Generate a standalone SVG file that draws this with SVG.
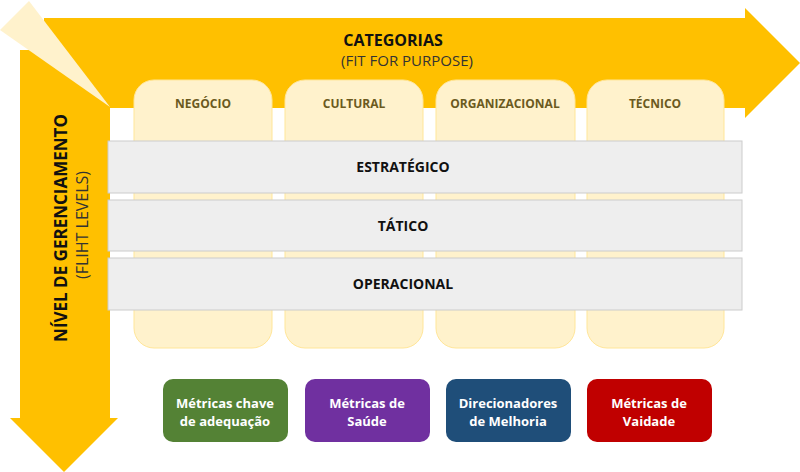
<svg xmlns="http://www.w3.org/2000/svg" width="800" height="472" viewBox="0 0 800 472">
<style>
.col{fill:#fff2cc;stroke:#ffe699;stroke-width:1}
.row{fill:#eeeeee;stroke:#cccccc;stroke-width:1}
.t{font-family:"Open Sans","Liberation Sans",sans-serif;font-weight:bold;text-anchor:middle}
.ct{font-size:12px;fill:#6b5a1e}
.rt{font-size:14px;fill:#111}
.bt{font-size:13px;fill:#fff}
</style>
<g id="arrows">
<polygon points="44,18 745,18 745,8 800,63 745,118 745,108 110,108 110,418 118,418 64,472 10,418 20,418 20,50 44,50" fill="#ffc000"/>
<polygon points="0,30 29,1 110,107" fill="#fff2cc"/>
<text class="t" x="393" y="46" font-size="16" fill="#111">CATEGORIAS</text>
<text x="407" y="66" font-family="Open Sans,Liberation Sans,sans-serif" font-size="15" fill="#333" text-anchor="middle">(FIT FOR PURPOSE)</text>
<text class="t" transform="translate(67,228) rotate(-90)" font-size="17" fill="#111">NÍVEL DE GERENCIAMENTO</text>
<text transform="translate(88,225) rotate(-90)" font-family="Open Sans,Liberation Sans,sans-serif" font-size="16" fill="#333" text-anchor="middle">(FLIHT LEVELS)</text>
</g>
<g id="negocio"><rect class="col" x="134" y="80" width="138" height="268" rx="20"/><text class="t ct" x="203" y="108">NEGÓCIO</text></g>
<g id="cultural"><rect class="col" x="285" y="80" width="138" height="268" rx="20"/><text class="t ct" x="354" y="108">CULTURAL</text></g>
<g id="organizacional"><rect class="col" x="436" y="80" width="139" height="268" rx="20"/><text class="t ct" x="505" y="108">ORGANIZACIONAL</text></g>
<g id="tecnico"><rect class="col" x="587" y="80" width="137" height="268" rx="20"/><text class="t ct" x="655" y="108">TÉCNICO</text></g>
<g id="estrategico"><rect class="row" x="108" y="141" width="634" height="52"/><text class="t rt" x="403" y="172">ESTRATÉGICO</text></g>
<g id="tatico"><rect class="row" x="108" y="200" width="634" height="51"/><text class="t rt" x="403" y="231">TÁTICO</text></g>
<g id="operacional"><rect class="row" x="108" y="258" width="634" height="52"/><text class="t rt" x="403" y="289">OPERACIONAL</text></g>
<g id="m1"><rect x="163" y="379" width="125" height="63" rx="10" fill="#548235"/><text class="t bt" x="225" y="408">Métricas chave</text><text class="t bt" x="225" y="426">de adequação</text></g>
<g id="m2"><rect x="305" y="379" width="125" height="63" rx="10" fill="#7030a0"/><text class="t bt" x="367" y="408">Métricas de</text><text class="t bt" x="367" y="426">Saúde</text></g>
<g id="m3"><rect x="446" y="379" width="125" height="63" rx="10" fill="#1f4e79"/><text class="t bt" x="508" y="408">Direcionadores</text><text class="t bt" x="508" y="426">de Melhoria</text></g>
<g id="m4"><rect x="587" y="379" width="125" height="63" rx="10" fill="#c00000"/><text class="t bt" x="649" y="408">Métricas de</text><text class="t bt" x="649" y="426">Vaidade</text></g>
<g id="connectors"></g>
</svg>
